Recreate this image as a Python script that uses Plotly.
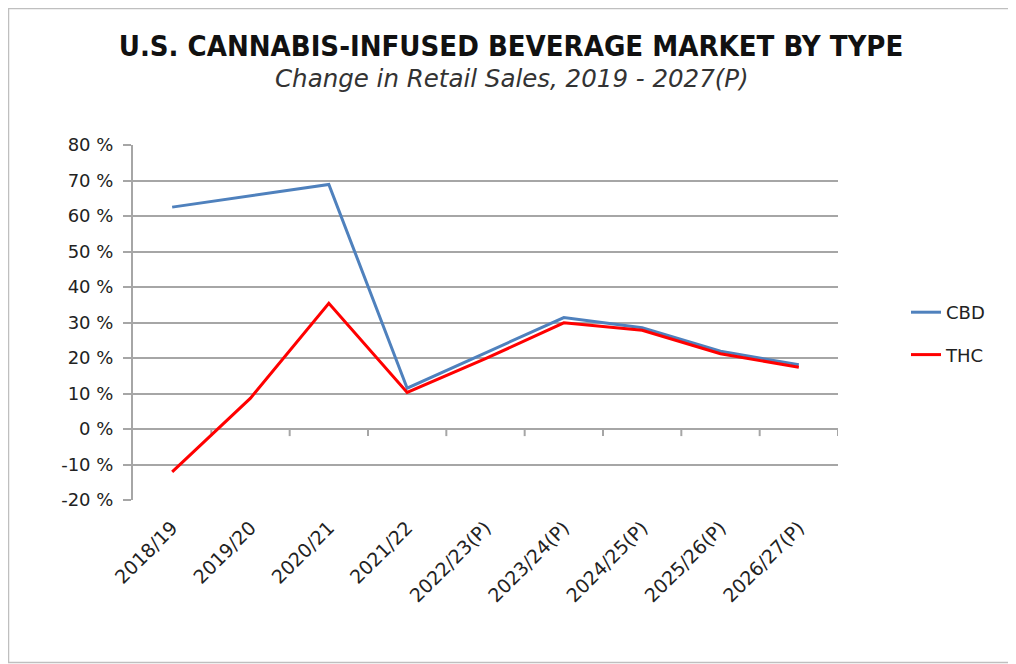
import plotly.graph_objects as go

categories = ["2018/19", "2019/20", "2020/21", "2021/22", "2022/23(P)",
              "2023/24(P)", "2024/25(P)", "2025/26(P)", "2026/27(P)"]
cbd = [62.5, 65.7, 68.9, 11.5, 21.5, 31.4, 28.5, 21.9, 18.1]
thc = [-12.1, 8.7, 35.4, 10.3, 19.8, 29.9, 27.8, 21.2, 17.4]
y_ticks = [-20, -10, 0, 10, 20, 30, 40, 50, 60, 70, 80]
y_tick_labels = [f"{v} %" for v in y_ticks]

# page body has an 8px margin, so the figure is 8px smaller on each axis
OFF = 8
W, H = 1016 - OFF, 664 - OFF
L, T = 133 - OFF, 145 - OFF
pw, ph = 705, 355
R, B = W - L - pw, H - T - ph

def px(xpage):
    return (xpage - OFF - L) / pw

def py(ypage):
    return 1 - (ypage - OFF - T) / ph

fig = go.Figure()
fig.add_trace(go.Scatter(x=categories, y=cbd, mode="lines", name="CBD",
                         legendgroup="a",
                         line=dict(color="#4f81bd", width=3)))
fig.add_trace(go.Scatter(x=categories, y=thc, mode="lines", name="THC",
                         legendgroup="b",
                         line=dict(color="#ff0000", width=3)))

# x-axis tick marks on the zero line (between categories)
for i in range(len(categories)):
    fig.add_shape(type="line", xref="x", yref="y", x0=i + 0.5, x1=i + 0.5,
                  y0=0, y1=-2, line=dict(color="#a6a6a6", width=2), layer="below")

# outer border
fig.add_shape(type="rect", xref="paper", yref="paper",
              x0=-L / pw + 0.5 / pw, x1=(W - L - 1.5) / pw,
              y0=-(H - T - ph - 1.5) / ph, y1=1 + (T - 0.5) / ph,
              line=dict(color="#bfbfbf", width=1.5))

fig.update_layout(
    width=W, height=H,
    margin=dict(l=L, r=R, t=T, b=B),
    paper_bgcolor="white", plot_bgcolor="white",
    font=dict(family="DejaVu Sans", color="#222222"),
    title=dict(text="<b>U.S. CANNABIS-INFUSED BEVERAGE MARKET BY TYPE</b>",
               x=(511 - OFF) / W, xanchor="center",
               y=1 - (46 - OFF) / H, yanchor="middle", yref="container",
               font=dict(family="DejaVu Sans Condensed, DejaVu Sans", size=29,
                         color="#111111")),
    annotations=[dict(text="<i>Change in Retail Sales, 2019 - 2027(P)</i>",
                      xref="paper", yref="paper",
                      x=px(512), y=py(78),
                      xanchor="center", yanchor="middle", showarrow=False,
                      font=dict(family="DejaVu Sans", size=24.5, color="#333333"))],
    showlegend=True,
    legend=dict(x=px(906), y=py(294), xanchor="left", yanchor="top",
                tracegroupgap=16, font=dict(size=18, color="#222222"),
                bgcolor="rgba(0,0,0,0)"),
    xaxis=dict(type="category", showgrid=False, showline=False, zeroline=False,
               tickangle=-45, ticks="", tickfont=dict(size=19, color="#222222"),
               ticklabelstandoff=12,
               range=[-0.5, len(categories) - 0.5]),
    yaxis=dict(range=[-20, 80], tickvals=y_ticks, ticktext=y_tick_labels,
               showgrid=True, gridcolor="#a6a6a6", gridwidth=2,
               zeroline=False, showline=True, linecolor="#a6a6a6", linewidth=2,
               ticks="outside", ticklen=8, tickcolor="#a6a6a6", tickwidth=2,
               ticklabelstandoff=6,
               tickfont=dict(size=18, color="#222222")),
)

fig.write_html("out.html")
